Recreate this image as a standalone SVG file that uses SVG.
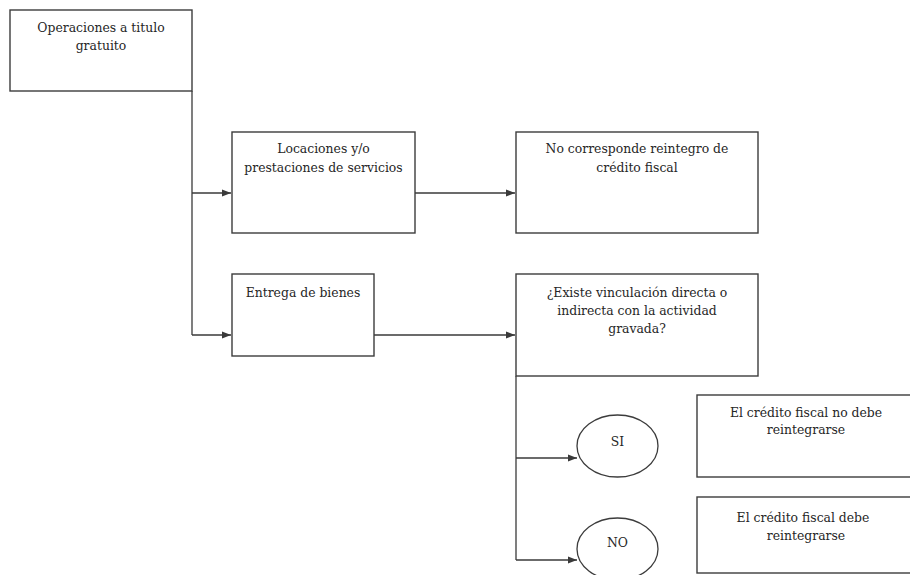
<svg xmlns="http://www.w3.org/2000/svg" width="910" height="575" viewBox="0 0 910 575">
  <style>
    .box { fill: #ffffff; stroke: #3c3c3c; stroke-width: 1.4; }
    .oval { fill: #ffffff; stroke: #3c3c3c; stroke-width: 1.3; }
    .wire { fill: none; stroke: #3a3a3a; stroke-width: 1.3; }
    .lbl { font-family: "DejaVu Serif", "Liberation Serif", serif; font-size: 12.4px; fill: #262626; text-anchor: middle; }
  </style>
  <defs>
    <marker id="arrow" markerUnits="userSpaceOnUse" markerWidth="10" markerHeight="8" refX="9" refY="4" orient="auto">
      <path d="M0,0.6 L9,4 L0,7.4 Z" fill="#3a3a3a"/>
    </marker>
  </defs>
  <rect width="910" height="575" fill="#ffffff"/>

  <!-- connectors -->
  <g id="connectors">
    <path class="wire" d="M192,91 V335"/>
    <path class="wire" d="M192,193 H231" marker-end="url(#arrow)"/>
    <path class="wire" d="M192,335 H231" marker-end="url(#arrow)"/>
    <path class="wire" d="M415,193 H515" marker-end="url(#arrow)"/>
    <path class="wire" d="M374,335 H515" marker-end="url(#arrow)"/>
    <path class="wire" d="M516,376 V560"/>
    <path class="wire" d="M516,458 H577" marker-end="url(#arrow)"/>
    <path class="wire" d="M516,560 H577" marker-end="url(#arrow)"/>
  </g>

  <!-- start -->
  <g id="operaciones">
    <rect class="box" x="10" y="10" width="182" height="81"/>
    <text class="lbl" x="101" y="32">Operaciones a titulo</text>
    <text class="lbl" x="101" y="50">gratuito</text>
  </g>

  <g id="locaciones">
    <rect class="box" x="232" y="132" width="183" height="101"/>
    <text class="lbl" x="323.5" y="153">Locaciones y/o</text>
    <text class="lbl" x="323.5" y="172">prestaciones de servicios</text>
  </g>

  <g id="no-reintegro">
    <rect class="box" x="516" y="132" width="242" height="101"/>
    <text class="lbl" x="637" y="153">No corresponde reintegro de</text>
    <text class="lbl" x="637" y="172">crédito fiscal</text>
  </g>

  <g id="entrega">
    <rect class="box" x="232" y="274" width="142" height="82"/>
    <text class="lbl" x="303" y="297">Entrega de bienes</text>
  </g>

  <g id="vinculacion">
    <rect class="box" x="516" y="274" width="242" height="102"/>
    <text class="lbl" x="637" y="297">¿Existe vinculación directa o</text>
    <text class="lbl" x="637" y="315">indirecta con la actividad</text>
    <text class="lbl" x="637" y="333">gravada?</text>
  </g>

  <g id="si">
    <ellipse class="oval" cx="617.5" cy="446" rx="40.5" ry="31"/>
    <text class="lbl" x="617.5" y="446">SI</text>
  </g>

  <g id="no">
    <ellipse class="oval" cx="617.5" cy="549" rx="40.5" ry="31"/>
    <text class="lbl" x="617.5" y="547">NO</text>
  </g>

  <g id="no-debe-reintegrarse">
    <rect class="box" x="697" y="395" width="220" height="82"/>
    <text class="lbl" x="806" y="417">El crédito fiscal no debe</text>
    <text class="lbl" x="806" y="434">reintegrarse</text>
  </g>

  <g id="debe-reintegrarse">
    <rect class="box" x="697" y="497" width="220" height="76"/>
    <text class="lbl" x="803" y="522">El crédito fiscal debe</text>
    <text class="lbl" x="806" y="540">reintegrarse</text>
  </g>
</svg>
